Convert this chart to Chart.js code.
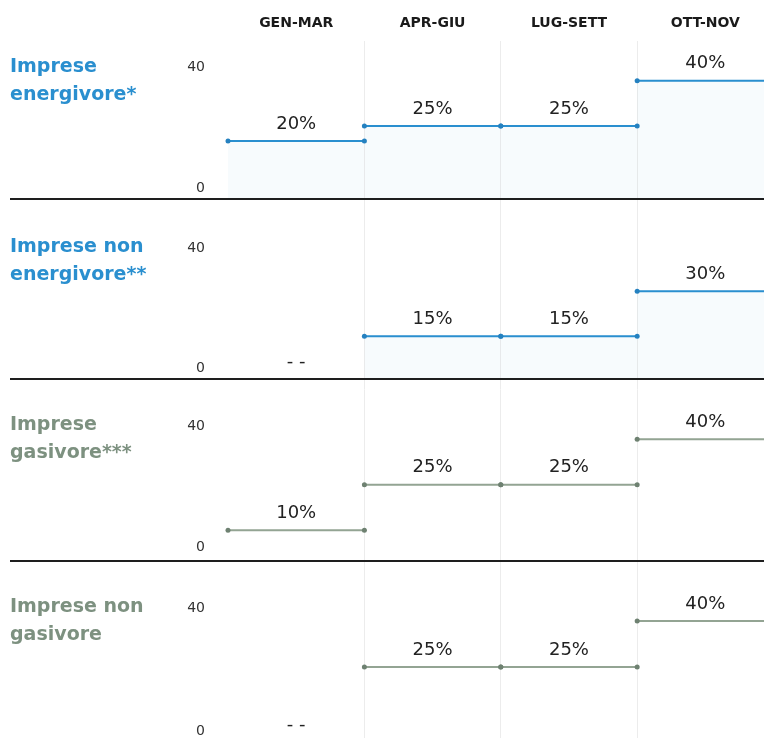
<!DOCTYPE html>
<html>
<head>
<meta charset="utf-8">
<script src="https://cdn.jsdelivr.net/npm/chart.js@4/dist/chart.umd.min.js"></script>
<style>
  html, body { margin: 0; padding: 0; background: #fff; }
  #wrap { width: 764px; height: 738px; position: relative; }
</style>
</head>
<body>
<div id="wrap"><canvas id="c"></canvas></div>
<script>
// periods (columns)
const periods = ['GEN-MAR', 'APR-GIU', 'LUG-SETT', 'OTT-NOV'];

// panel names
const panelNames = [
  ['Imprese', 'energivore*'],
  ['Imprese non', 'energivore**'],
  ['Imprese', 'gasivore***'],
  ['Imprese non', 'gasivore']
];

// credit share per period, null = not available ("- -")
const energivore = [20, 25, 25, 40];
const nonEnergivore = [null, 15, 15, 30];
const gasivore = [10, 25, 25, 40];
const nonGasivore = [null, 25, 25, 40];

const yTicks = [0, 40];

const BLUE = '#2a8fcf';
const BLUE_DOT = '#2581c0';
const GAS_TXT = '#7d9180';
const GAS_LINE = '#93a493';
const GAS_DOT = '#6e8171';
const FONT = '"DejaVu Sans", sans-serif';

const series = [energivore, nonEnergivore, gasivore, nonGasivore];
const axisIds = ['y1', 'y2', 'y3', 'y4'];
const lineCols = [BLUE, BLUE, GAS_LINE, GAS_LINE];
const dotCols = [BLUE_DOT, BLUE_DOT, GAS_DOT, GAS_DOT];
const nameCols = [BLUE, BLUE, GAS_TXT, GAS_TXT];

// each period is a flat segment from i to i+1, with a gap between periods
function segments(vals) {
  const pts = [];
  vals.forEach((v, i) => {
    if (v === null) return;
    pts.push({x: i, y: v}, {x: i + 1, y: v}, {x: i + 1, y: null});
  });
  return pts;
}

const datasets = series.map((vals, k) => ({
  data: segments(vals),
  yAxisID: axisIds[k],
  borderColor: lineCols[k],
  borderWidth: 2,
  pointRadius: 2.5,
  pointBackgroundColor: dotCols[k],
  pointBorderWidth: 0,
  fill: k < 2 ? 'start' : false,
  backgroundColor: 'rgba(42,143,207,0.035)',
  spanGaps: false,
  clip: false
}));

// panel names, separators, value labels
const panelPlugin = {
  id: 'panels',
  afterDatasetsDraw(chart) {
    const ctx = chart.ctx;
    const x = chart.scales.x;
    ctx.save();
    axisIds.forEach((id, k) => {
      const s = chart.scales[id];
      // separator
      if (k < 3) {
        ctx.strokeStyle = '#1e1e1e';
        ctx.lineWidth = 2;
        ctx.beginPath();
        ctx.moveTo(10, Math.round(s.bottom));
        ctx.lineTo(chart.width, Math.round(s.bottom));
        ctx.stroke();
      }
      // panel name, first line level with the "40" tick
      ctx.fillStyle = nameCols[k];
      ctx.font = 'bold 19px ' + FONT;
      ctx.textAlign = 'left';
      ctx.textBaseline = 'middle';
      const yTop = s.getPixelForValue(40) - 14;
      ctx.fillText(panelNames[k][0], 10, yTop);
      ctx.fillText(panelNames[k][1], 10, yTop + 28);
      // value labels
      ctx.fillStyle = '#222';
      ctx.textAlign = 'center';
      ctx.font = '18px ' + FONT;
      series[k].forEach((v, i) => {
        const cx = x.getPixelForValue(i + 0.5);
        if (v === null) {
          ctx.fillText('- -', cx, s.getPixelForValue(0) - 19);
        } else {
          ctx.fillText(v + '%', cx, s.getPixelForValue(v) - 17);
        }
      });
    });
    ctx.restore();
  }
};

function yAxis(min, max, weight) {
  return {
    type: 'linear',
    position: 'left',
    stack: 'panels',
    stackWeight: weight,
    offset: false,
    min: min,
    max: max,
    afterBuildTicks: a => { a.ticks = yTicks.map(v => ({value: v})); },
    afterFit: a => { a.width = 228; a.paddingTop = 0; a.paddingBottom = 0; },
    grid: { display: false },
    border: { display: false },
    ticks: {
      color: '#333',
      font: { size: 14, family: FONT },
      padding: 15,
      labelOffset: -13
    }
  };
}

new Chart(document.getElementById('c'), {
  type: 'line',
  data: { datasets: datasets },
  plugins: [panelPlugin],
  options: {
    responsive: true,
    maintainAspectRatio: false,
    animation: false,
    layout: { autoPadding: false, padding: { top: 14, right: 0, bottom: 0, left: 0 } },
    plugins: { legend: { display: false }, tooltip: { enabled: false } },
    scales: {
      x: {
        type: 'linear',
        position: 'top',
        min: 0,
        max: 3.93,
        afterBuildTicks: a => { a.ticks = periods.map((p, i) => ({value: i + 0.5})); },
        afterFit: a => { a.paddingLeft = 0; a.paddingRight = 0; },
        grid: { display: false },
        border: { display: false },
        ticks: {
          color: '#1a1a1a',
          font: { size: 14, weight: 'bold', family: FONT },
          padding: 1,
          maxRotation: 0,
          callback: v => periods[Math.floor(v)]
        }
      },
      xg: {
        type: 'linear',
        position: 'top',
        min: 0,
        max: 3.93,
        afterBuildTicks: a => { a.ticks = [1, 2, 3].map(v => ({value: v})); },
        afterFit: a => { a.height = 0; a.paddingLeft = 0; a.paddingRight = 0; },
        grid: { color: '#ececec', lineWidth: 1, drawTicks: false },
        border: { display: false },
        ticks: { display: false }
      },
      // stacked axes are laid out bottom-up
      y4: yAxis(1.95, 59.6, 177),
      y3: yAxis(0, 59.7, 181),
      y2: yAxis(0.67, 60.67, 180),
      y1: yAxis(0.67, 53.3, 158)
    }
  }
});
</script>
</body>
</html>
